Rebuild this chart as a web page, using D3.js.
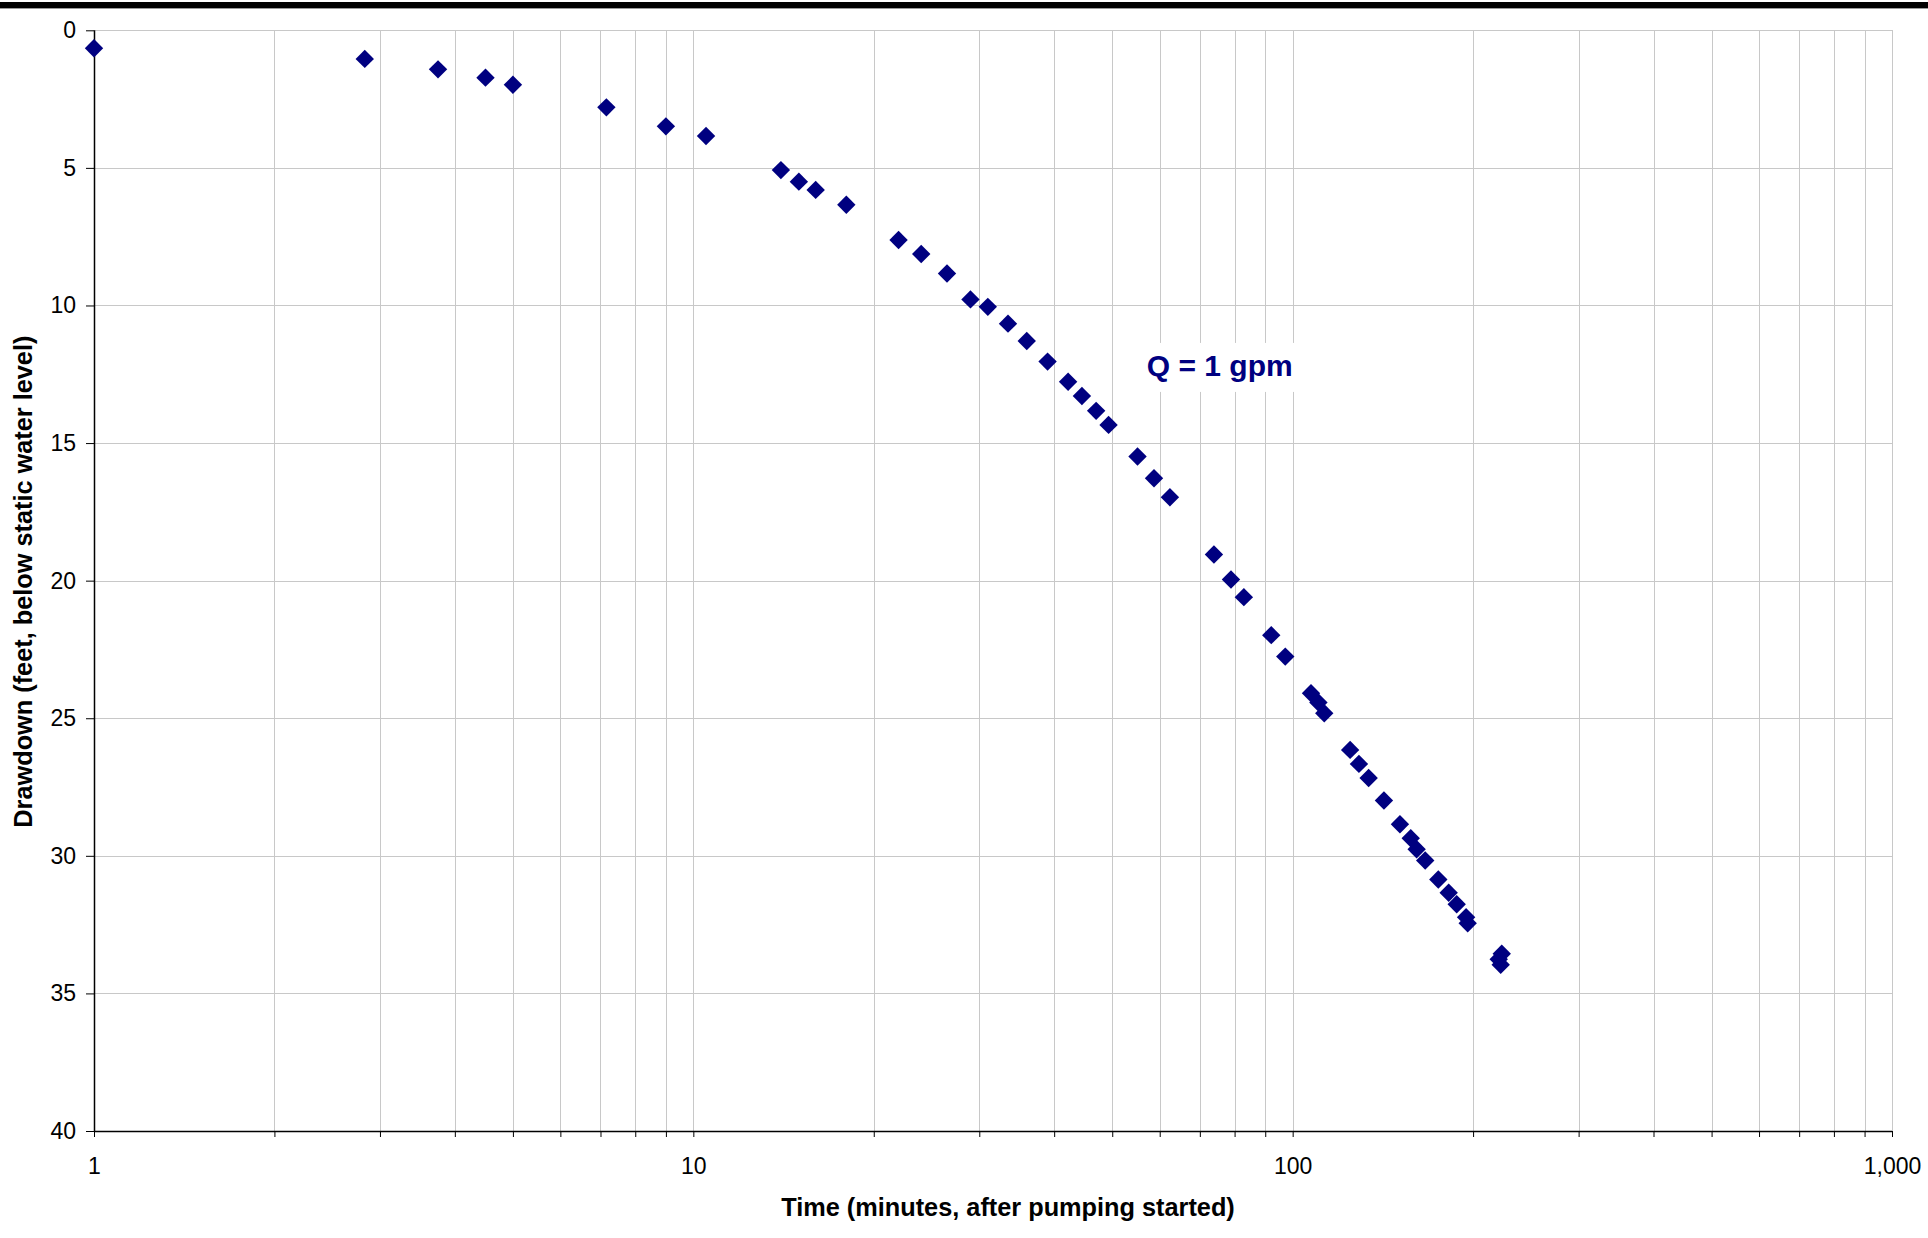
<!DOCTYPE html>
<html>
<head>
<meta charset="utf-8">
<script src="https://cdn.jsdelivr.net/npm/d3@7"></script>
<style>
  html, body { margin: 0; padding: 0; background: #fff; }
  svg { display: block; }
  text { font-family: Arial, "Liberation Sans", sans-serif; }
</style>
</head>
<body>
<div id="chart"></div>
<script>
// ---- data (time in minutes, drawdown in feet) ----
const timeMinutes = [1, 2.83, 3.75, 4.5, 5, 7.16, 9, 10.5, 14, 15, 16, 18, 22, 24, 26.5, 29, 31, 33.5, 36, 39, 42.2, 44.5, 47, 49.3, 55.1, 58.7, 62.4, 73.9, 78.9, 82.9, 92.1, 97.2, 107.3, 110.4, 112.9, 124.7, 129, 133.9, 142, 151, 157.4, 161, 166.4, 175, 182.1, 187.8, 194.7, 195.9, 223.3, 220.7, 222.4];
const drawdownFeet = [0.65, 1.04, 1.42, 1.72, 1.98, 2.80, 3.49, 3.84, 5.08, 5.50, 5.80, 6.34, 7.62, 8.13, 8.84, 9.78, 10.05, 10.66, 11.29, 12.04, 12.77, 13.29, 13.83, 14.34, 15.49, 16.28, 16.97, 19.05, 19.96, 20.60, 21.98, 22.76, 24.09, 24.43, 24.82, 26.15, 26.66, 27.17, 27.99, 28.85, 29.36, 29.76, 30.17, 30.86, 31.34, 31.76, 32.23, 32.45, 33.56, 33.76, 33.96];
const xMajorTicks = [1, 10, 100, 1000];
const xMinorTicks = [2,3,4,5,6,7,8,9, 20,30,40,50,60,70,80,90, 200,300,400,500,600,700,800,900];
const yTicks = [0, 5, 10, 15, 20, 25, 30, 35, 40];
const xTitle = "Time (minutes, after pumping started)";
const yTitle = "Drawdown (feet, below static water level)";
const annotationText = "Q = 1 gpm";
const annotationAt = { t: 57.1, dd: 12.56 };

// ---- layout ----
const W = 1928, H = 1238;
const plot = { left: 94, right: 1892, top: 30.3, bottom: 1131 };
const navy = "#000080";
const gridColor = "#c8c8c8";

const svg = d3.select("#chart").append("svg").attr("width", W).attr("height", H);

// top black rule
svg.append("rect").attr("x", 0).attr("y", 2).attr("width", W).attr("height", 6).attr("fill", "#000");
svg.append("line").attr("x1", 0).attr("x2", W).attr("y1", 8.5).attr("y2", 8.5).attr("stroke", "#999").attr("stroke-width", 1);

const x = d3.scaleLog().domain([1, 1000]).range([plot.left, plot.right]);
const y = d3.scaleLinear().domain([0, 40]).range([plot.top, plot.bottom]);

// gridlines
const grid = svg.append("g").attr("shape-rendering", "crispEdges");
grid.selectAll("line.v").data(xMajorTicks.concat(xMinorTicks).filter(d => d > 1)).enter().append("line")
  .attr("x1", d => Math.round(x(d)) + 0.5).attr("x2", d => Math.round(x(d)) + 0.5)
  .attr("y1", plot.top).attr("y2", plot.bottom)
  .attr("stroke", gridColor).attr("stroke-width", 1);
grid.selectAll("line.h").data(yTicks.filter(d => d < 40)).enter().append("line")
  .attr("x1", plot.left).attr("x2", plot.right)
  .attr("y1", d => Math.round(y(d)) + 0.5).attr("y2", d => Math.round(y(d)) + 0.5)
  .attr("stroke", gridColor).attr("stroke-width", 1);

// x axis
const xAxis = d3.axisBottom(x)
  .tickValues(xMajorTicks.concat(xMinorTicks))
  .tickSize(6)
  .tickPadding(20.5)
  .tickFormat(d => xMajorTicks.includes(d) ? d3.format(",")(d) : "");
const gx = svg.append("g").attr("transform", `translate(0,${plot.bottom})`).call(xAxis);
gx.select(".domain").attr("stroke", "#000").attr("stroke-width", 1.5);
gx.selectAll(".tick line").attr("stroke", "#000");
gx.selectAll(".tick text").attr("font-size", 23).attr("fill", "#000").attr("font-family", "Arial, 'Liberation Sans', sans-serif");
gx.select(".domain").attr("d", `M${plot.left},0.5H${plot.right}`);

// y axis
const yAxis = d3.axisLeft(y).tickValues(yTicks).tickSize(8).tickPadding(10).tickFormat(d3.format("d"));
const gy = svg.append("g").attr("transform", `translate(${plot.left},0)`).call(yAxis);
gy.select(".domain").attr("stroke", "#000").attr("stroke-width", 1.5).attr("d", `M0.5,${plot.top}V${plot.bottom}`);
gy.selectAll(".tick line").attr("stroke", "#000");
gy.selectAll(".tick text").attr("font-size", 23).attr("fill", "#000").attr("font-family", "Arial, 'Liberation Sans', sans-serif");

// annotation with white background
const ax = x(annotationAt.t), ay = y(annotationAt.dd);
svg.append("rect").attr("x", ax - 7).attr("y", ay - 33).attr("width", 160).attr("height", 49).attr("fill", "#fff");
svg.append("text").attr("x", ax).attr("y", ay)
  .attr("font-size", 30).attr("font-weight", "bold").attr("fill", navy)
  .text(annotationText);

// data points
const pts = timeMinutes.map((t, i) => ({ t, dd: drawdownFeet[i] }));
const diamond = "M0,-9.2L9.2,0L0,9.2L-9.2,0Z";
svg.append("g").selectAll("path").data(pts).enter().append("path")
  .attr("d", diamond)
  .attr("transform", d => `translate(${x(d.t)},${y(d.dd)})`)
  .attr("fill", navy);

// axis titles
svg.append("text").attr("x", 1008).attr("y", 1216).attr("text-anchor", "middle")
  .attr("font-size", 25.3).attr("font-weight", "bold").attr("fill", "#000").text(xTitle);
svg.append("text").attr("transform", `translate(32,${(plot.top + plot.bottom) / 2 + 1}) rotate(-90)`)
  .attr("text-anchor", "middle").attr("font-size", 25.3).attr("font-weight", "bold").attr("fill", "#000").text(yTitle);
</script>
</body>
</html>
